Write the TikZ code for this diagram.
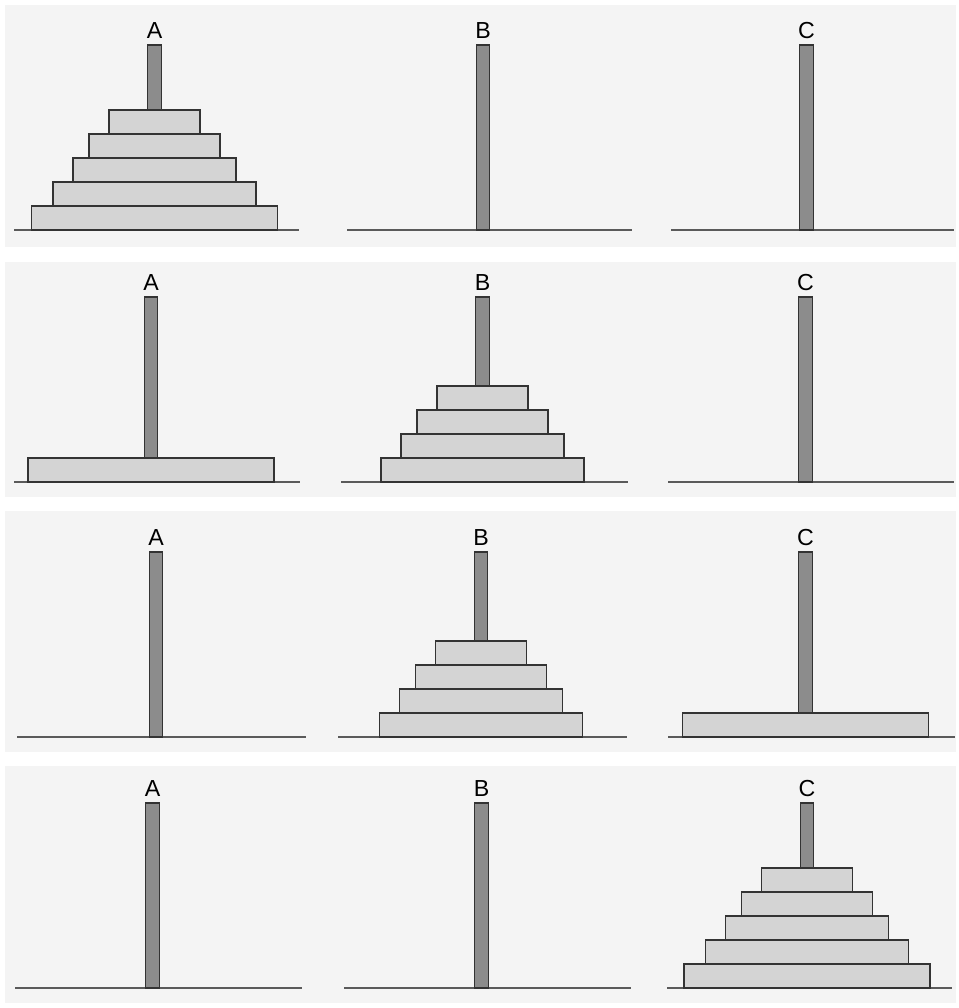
\documentclass[tikz,border=0pt]{standalone}
\usepackage{fontspec}
\setmainfont{Liberation Sans}
\usetikzlibrary{positioning}
\definecolor{hanoibg}{HTML}{F4F4F4}
\definecolor{hanoidisk}{HTML}{D4D4D4}
\definecolor{hanoipeg}{HTML}{8C8C8C}
\definecolor{hanoidark}{HTML}{333333}
\definecolor{hanoiline}{HTML}{5A5A5A}

\begin{document}
\begin{tikzpicture}[x=0.02cm, y=-0.02cm,
  panel/.style={fill=hanoibg},
  ground/.style={line width=1.1pt, draw=hanoiline},
  peg/.style={rectangle, draw=hanoidark, fill=hanoipeg, line width=0.7pt, outer sep=0pt,
              minimum width=0.27cm, minimum height=3.7cm, inner sep=0pt, anchor=south},
  disk/.style={rectangle, draw=hanoidark, fill=hanoidisk, line width=0.9pt, outer sep=0pt,
               minimum height=0.48cm, inner sep=0pt, anchor=south},
  d1/.style={disk, minimum width=1.82cm},
  d2/.style={disk, minimum width=2.62cm},
  d3/.style={disk, minimum width=3.26cm},
  d4/.style={disk, minimum width=4.06cm},
  d5/.style={disk, minimum width=4.92cm},
  tag/.style={font=\fontsize{13.2}{15}\selectfont}
]
\useasboundingbox (0,0) rectangle (958,1008);

% start: everything on A
\fill[panel] (5,5) rectangle (956,247);
\draw[ground] (14,230)--(299,230) (347,230)--(632,230) (671,230)--(954,230);
\node[peg] (pa1) at (154.5,230) {};
\node[peg] (pb1) at (483,230) {};
\node[peg] (pc1) at (806.5,230) {};
\node[tag, above=0pt of pa1] (la1) {A};
\node[tag, above=0pt of pb1] (lb1) {B};
\node[tag, above=0pt of pc1] (lc1) {C};
\node[d5] (a15) at (pa1.south) {};
\node[d4, above=0pt of a15] (a14) {};
\node[d3, above=0pt of a14] (a13) {};
\node[d2, above=0pt of a13] (a12) {};
\node[d1, above=0pt of a12] (a11) {};

% four small disks moved to B
\fill[panel] (5,262) rectangle (956,497);
\draw[ground] (14,482)--(300,482) (341,482)--(628,482) (668,482)--(954,482);
\node[peg] (pa2) at (151,482) {};
\node[peg] (pb2) at (482.5,482) {};
\node[peg] (pc2) at (805.5,482) {};
\node[tag, above=0pt of pa2] (la2) {A};
\node[tag, above=0pt of pb2] (lb2) {B};
\node[tag, above=0pt of pc2] (lc2) {C};
\node[d5] (a25) at (pa2.south) {};
\node[d4] (b24) at (pb2.south) {};
\node[d3, above=0pt of b24] (b23) {};
\node[d2, above=0pt of b23] (b22) {};
\node[d1, above=0pt of b22] (b21) {};

% largest disk moved to C
\fill[panel] (5,511) rectangle (956,752);
\draw[ground] (17,737)--(306,737) (338,737)--(627,737) (668,737)--(955,737);
\node[peg] (pa3) at (156,737) {};
\node[peg] (pb3) at (481,737) {};
\node[peg] (pc3) at (805.5,737) {};
\node[tag, above=0pt of pa3] (la3) {A};
\node[tag, above=0pt of pb3] (lb3) {B};
\node[tag, above=0pt of pc3] (lc3) {C};
\node[d4] (b34) at (pb3.south) {};
\node[d3, above=0pt of b34] (b33) {};
\node[d2, above=0pt of b33] (b32) {};
\node[d1, above=0pt of b32] (b31) {};
\node[d5] (c35) at (pc3.south) {};

% end: everything on C
\fill[panel] (5,766) rectangle (956,1003);
\draw[ground] (15,988)--(302,988) (344,988)--(631,988) (667,988)--(952,988);
\node[peg] (pa4) at (152.5,988) {};
\node[peg] (pb4) at (481.5,988) {};
\node[peg] (pc4) at (807,988) {};
\node[tag, above=0pt of pa4] (la4) {A};
\node[tag, above=0pt of pb4] (lb4) {B};
\node[tag, above=0pt of pc4] (lc4) {C};
\node[d5] (c45) at (pc4.south) {};
\node[d4, above=0pt of c45] (c44) {};
\node[d3, above=0pt of c44] (c43) {};
\node[d2, above=0pt of c43] (c42) {};
\node[d1, above=0pt of c42] (c41) {};
\end{tikzpicture}
\end{document}
